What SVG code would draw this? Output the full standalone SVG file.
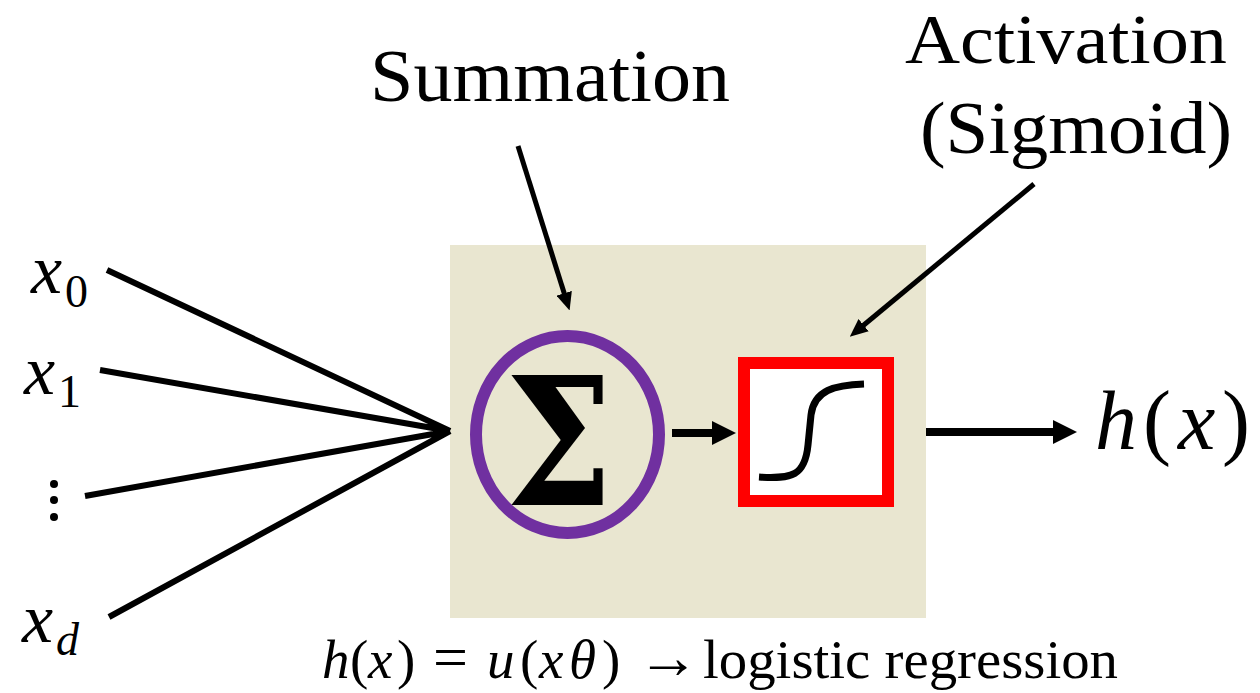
<svg xmlns="http://www.w3.org/2000/svg" width="1260" height="693" viewBox="0 0 1260 693">
<style>
text{fill:#000;font-family:"Liberation Serif","Times New Roman",serif}
.t{font-size:74px}
.i{font-style:italic}
.s{font-size:46px}
.v{font-size:70px;font-style:italic}
.f{font-size:55px}
.g{font-family:"DejaVu Serif",serif;font-weight:bold;font-size:177px}
.l{stroke:#000;stroke-width:6;fill:none}
.a{stroke:#000;stroke-width:5;fill:none}
.b{stroke:#000;stroke-width:8;fill:none}
</style>
<defs><marker id="a" markerUnits="userSpaceOnUse" markerWidth="18" markerHeight="16" refX="6" refY="8" orient="auto"><path d="M0 0L18 8L0 16Z" fill="#000"/></marker>
<marker id="b" markerUnits="userSpaceOnUse" markerWidth="24" markerHeight="24" refX="4" refY="12" orient="auto"><path d="M0 0L24 12L0 24Z" fill="#000"/></marker></defs>
<rect width="1260" height="693" fill="#fff"/>
<rect id="box" x="450" y="245" width="476" height="373" fill="#e9e6d0"/>
<g id="connectors">
<path class="l" d="M107 270L450 431M100 370L450 431M85 496L450 431M109 617L450 431"/>
<path class="a" d="M518 146L566 299" marker-end="url(#a)"/>
<path class="a" d="M1034 184L859 329" marker-end="url(#a)"/>
<path class="b" d="M672 433H716" marker-end="url(#b)"/>
<path class="b" d="M926 432H1057" marker-end="url(#b)"/>
</g>
<g id="sum"><ellipse cx="567.5" cy="434.5" rx="91.5" ry="98.5" fill="none" stroke="#7030a0" stroke-width="12"/>
<text class="g" transform="translate(559 505) scale(.86 1)" text-anchor="middle">Σ</text></g>
<g id="act"><rect x="744" y="363" width="144" height="138" fill="#fff" stroke="#f00" stroke-width="12"/>
<path d="M759 477C792 479 805 476 808 445L811 415C814 390 835 385 864 384" fill="none" stroke="#000" stroke-width="7"/></g>
<g id="labels">
<text class="t" x="370" y="101" textLength="360" lengthAdjust="spacingAndGlyphs">Summation</text>
<text x="905" y="63" font-size="70" textLength="322" lengthAdjust="spacingAndGlyphs">Activation</text>
<text class="t" x="920" y="153" textLength="312" lengthAdjust="spacingAndGlyphs">(Sigmoid)</text>
<text class="v" x="31" y="293">x</text><text class="s" x="65" y="307">0</text>
<text class="v" x="24" y="394">x</text><text class="s" x="58" y="407">1</text>
<g fill="#000"><circle cx="54" cy="484" r="4"/><circle cx="54" cy="500" r="4"/><circle cx="54" cy="517" r="4"/></g>
<text class="v" x="22" y="642">x</text><text class="s i" x="56" y="655">d</text>
<text font-size="84" y="449"><tspan class="i" x="1095">h</tspan><tspan x="1143">(</tspan><tspan class="i" x="1178">x</tspan><tspan x="1222">)</tspan></text>
<text class="f" y="678"><tspan class="i" x="322">h</tspan><tspan x="350">(</tspan><tspan class="i" x="368">x</tspan><tspan x="397">)</tspan><tspan x="433" font-size="62">=</tspan><tspan class="i" x="487">u</tspan><tspan x="520">(</tspan><tspan class="i" x="539">x</tspan><tspan class="i" x="569">θ</tspan><tspan x="602">)</tspan><tspan x="637" font-size="62">→</tspan></text>
<text class="f" x="703" y="678" textLength="415" lengthAdjust="spacingAndGlyphs">logistic regression</text>
</g>
</svg>
